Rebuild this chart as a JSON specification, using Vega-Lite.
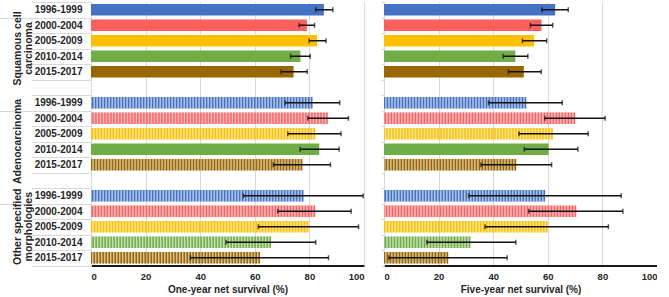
{
  "$schema": "https://vega.github.io/schema/vega-lite/v6.json",
  "padding": {"left": -3, "top": -3, "right": 0, "bottom": 0},
  "spacing": 20,
  "bounds": "flush",
  "config": {
    "view": {"stroke": null},
    "font": "Liberation Sans",
    "axis": {"labelFont": "Liberation Sans", "titleFont": "Liberation Sans", "labelColor": "#262626", "titleColor": "#262626"},
    "range": {"category": ["#4472C4","#FF5F5F","#FFC000","#70AD47","#996600"]}
  },
  "datasets": {
    "surv": [
      {"m": "1y", "grp": "SCC", "period": "1996-1999", "cat": "SCC|1996-1999", "v": 85.3, "lo": 82.3, "hi": 88.6},
      {"m": "1y", "grp": "SCC", "period": "2000-2004", "cat": "SCC|2000-2004", "v": 79.1, "lo": 76.2, "hi": 81.9},
      {"m": "1y", "grp": "SCC", "period": "2005-2009", "cat": "SCC|2005-2009", "v": 82.8, "lo": 79.9, "hi": 86.1},
      {"m": "1y", "grp": "SCC", "period": "2010-2014", "cat": "SCC|2010-2014", "v": 76.7, "lo": 73.1, "hi": 80.3},
      {"m": "1y", "grp": "SCC", "period": "2015-2017", "cat": "SCC|2015-2017", "v": 74.2, "lo": 69.6, "hi": 79.2},
      {"m": "1y", "grp": "ADC", "period": "1996-1999", "cat": "ADC|1996-1999", "v": 81.1, "lo": 71.1, "hi": 91.1},
      {"m": "1y", "grp": "ADC", "period": "2000-2004", "cat": "ADC|2000-2004", "v": 86.7, "lo": 79.4, "hi": 94.3},
      {"m": "1y", "grp": "ADC", "period": "2005-2009", "cat": "ADC|2005-2009", "v": 82.1, "lo": 72.1, "hi": 91.6},
      {"m": "1y", "grp": "ADC", "period": "2010-2014", "cat": "ADC|2010-2014", "v": 83.6, "lo": 76.6, "hi": 90.9},
      {"m": "1y", "grp": "ADC", "period": "2015-2017", "cat": "ADC|2015-2017", "v": 77.4, "lo": 66.8, "hi": 87.7},
      {"m": "1y", "grp": "OSM", "period": "1996-1999", "cat": "OSM|1996-1999", "v": 77.8, "lo": 55.8, "hi": 99.7},
      {"m": "1y", "grp": "OSM", "period": "2000-2004", "cat": "OSM|2000-2004", "v": 82.1, "lo": 68.4, "hi": 95.3},
      {"m": "1y", "grp": "OSM", "period": "2005-2009", "cat": "OSM|2005-2009", "v": 79.6, "lo": 61.3, "hi": 98.0},
      {"m": "1y", "grp": "OSM", "period": "2010-2014", "cat": "OSM|2010-2014", "v": 65.9, "lo": 49.5, "hi": 82.3},
      {"m": "1y", "grp": "OSM", "period": "2015-2017", "cat": "OSM|2015-2017", "v": 61.9, "lo": 36.4, "hi": 87.0},
      {"m": "5y", "grp": "SCC", "period": "1996-1999", "cat": "SCC|1996-1999", "v": 62.7, "lo": 57.8, "hi": 67.5},
      {"m": "5y", "grp": "SCC", "period": "2000-2004", "cat": "SCC|2000-2004", "v": 57.7, "lo": 53.6, "hi": 61.8},
      {"m": "5y", "grp": "SCC", "period": "2005-2009", "cat": "SCC|2005-2009", "v": 55.0, "lo": 50.7, "hi": 59.6},
      {"m": "5y", "grp": "SCC", "period": "2010-2014", "cat": "SCC|2010-2014", "v": 48.1, "lo": 43.7, "hi": 52.7},
      {"m": "5y", "grp": "SCC", "period": "2015-2017", "cat": "SCC|2015-2017", "v": 51.2, "lo": 45.6, "hi": 57.6},
      {"m": "5y", "grp": "ADC", "period": "1996-1999", "cat": "ADC|1996-1999", "v": 52.1, "lo": 38.3, "hi": 65.3},
      {"m": "5y", "grp": "ADC", "period": "2000-2004", "cat": "ADC|2000-2004", "v": 70.0, "lo": 58.9, "hi": 81.0},
      {"m": "5y", "grp": "ADC", "period": "2005-2009", "cat": "ADC|2005-2009", "v": 61.8, "lo": 49.4, "hi": 74.8},
      {"m": "5y", "grp": "ADC", "period": "2010-2014", "cat": "ADC|2010-2014", "v": 60.3, "lo": 51.4, "hi": 71.0},
      {"m": "5y", "grp": "ADC", "period": "2015-2017", "cat": "ADC|2015-2017", "v": 48.4, "lo": 35.5, "hi": 61.4},
      {"m": "5y", "grp": "OSM", "period": "1996-1999", "cat": "OSM|1996-1999", "v": 59.0, "lo": 31.0, "hi": 86.9},
      {"m": "5y", "grp": "OSM", "period": "2000-2004", "cat": "OSM|2000-2004", "v": 70.4, "lo": 53.0, "hi": 87.5},
      {"m": "5y", "grp": "OSM", "period": "2005-2009", "cat": "OSM|2005-2009", "v": 59.9, "lo": 37.0, "hi": 82.2},
      {"m": "5y", "grp": "OSM", "period": "2010-2014", "cat": "OSM|2010-2014", "v": 31.6, "lo": 15.7, "hi": 48.3},
      {"m": "5y", "grp": "OSM", "period": "2015-2017", "cat": "OSM|2015-2017", "v": 23.5, "lo": 1.8, "hi": 45.1}
    ]
  },
  "hconcat": [
    {
      "width": 273,
      "height": 263.5,
      "data": {"name": "surv"},
      "transform": [{"filter": "datum.m == '1y'"}],
      "resolve": {"axis": {"y": "independent"}},
      "layer": [
        {
          "mark": {"type": "bar", "height": {"band": 0.74}},
          "encoding": {
            "y": {"field": "cat", "type": "nominal",
              "scale": {"domain": ["SCC|1996-1999","SCC|2000-2004","SCC|2005-2009","SCC|2010-2014","SCC|2015-2017","SCC|","ADC|1996-1999","ADC|2000-2004","ADC|2005-2009","ADC|2010-2014","ADC|2015-2017","ADC|","OSM|1996-1999","OSM|2000-2004","OSM|2005-2009","OSM|2010-2014","OSM|2015-2017"], "paddingInner": 0, "paddingOuter": 0},
              "axis": {
                "orient": "left",
                "title": null,
                "labelExpr": "split(datum.value, '|')[1]",
                "tickBand": "extent",
                "tickSize": {"condition": {"test": "datum.value == 'SCC|1996-1999' || datum.value == 'ADC|1996-1999' || datum.value == 'OSM|1996-1999'", "value": 93}, "value": 60},
                "labelPadding": {"condition": {"test": "datum.value == 'SCC|1996-1999' || datum.value == 'ADC|1996-1999' || datum.value == 'OSM|1996-1999'", "value": -84}, "value": -51},
                "tickColor": "#d9d9d9",
                "domainColor": "#d9d9d9",
                "labelFontWeight": "bold",
                "labelFontSize": 10,
                "labelAlign": "right",
                "labelBaseline": "middle",
                "grid": false
              }
            },
            "x": {"field": "v", "type": "quantitative",
              "scale": {"domain": [0, 100], "nice": false},
              "axis": {"values": [0, 20, 40, 60, 80, 100], "title": "One-year net survival (%)", "grid": true, "gridColor": "#d9d9d9", "domainColor": "#1a1a1a", "domainWidth": 2, "ticks": false, "labelPadding": 6, "labelFontSize": 9.5, "labelFontWeight": "bold", "titleFontSize": 10, "titleFontWeight": "bold", "titlePadding": 3}
            },
            "fill": {"field": "period", "type": "nominal", "legend": null},
            "fillOpacity": {"condition": {"test": "datum.grp == 'SCC' || datum.cat == 'ADC|2010-2014'", "value": 1}, "value": 0.4}
          }
        },
        {
          "transform": [{"filter": "!(datum.grp == 'SCC' || datum.cat == 'ADC|2010-2014')"}],
          "mark": {"type": "rule", "strokeWidth": 11.5, "strokeDash": [1.5, 1.5], "strokeCap": "butt"},
          "encoding": {
            "y": {"field": "cat", "type": "nominal", "axis": null},
            "x": {"field": "v", "type": "quantitative"},
            "x2": {"datum": 0},
            "stroke": {"field": "period", "type": "nominal", "legend": null}
          }
        },
        {
          "mark": {"type": "rule", "strokeWidth": 1.5, "color": "#111111"},
          "encoding": {
            "y": {"field": "cat", "type": "nominal",
              "axis": {
                "orient": "left",
                "title": null,
                "values": ["SCC|2005-2009", "ADC|2005-2009", "OSM|2005-2009"],
                "labelExpr": "datum.value == 'SCC|2005-2009' ? ['Squamous cell', 'carcinoma'] : datum.value == 'ADC|2005-2009' ? 'Adenocarcinoma' : ['Other specified', 'morphologies']",
                "labelAngle": -90,
                "labelAlign": "center",
                "labelBaseline": "middle",
                "labelLineHeight": 11.5,
                "labelOffset": {"condition": {"test": "datum.value == 'OSM|2005-2009'", "value": 0}, "value": 7.75},
                "labelPadding": 74,
                "ticks": false,
                "tickSize": 0,
                "domain": false,
                "grid": false,
                "labelFontWeight": "bold",
                "labelFontSize": 10.5
              }
            },
            "x": {"field": "lo", "type": "quantitative"},
            "x2": {"field": "hi"}
          }
        },
        {
          "mark": {"type": "tick", "size": 5, "thickness": 1.5, "color": "#111111"},
          "encoding": {
            "y": {"field": "cat", "type": "nominal", "axis": null},
            "x": {"field": "lo", "type": "quantitative"}
          }
        },
        {
          "mark": {"type": "tick", "size": 5, "thickness": 1.5, "color": "#111111"},
          "encoding": {
            "y": {"field": "cat", "type": "nominal", "axis": null},
            "x": {"field": "hi", "type": "quantitative"}
          }
        }
      ]
    },
    {
      "width": 273,
      "height": 263.5,
      "data": {"name": "surv"},
      "transform": [{"filter": "datum.m == '5y'"}],
      "layer": [
        {
          "mark": {"type": "bar", "height": {"band": 0.74}},
          "encoding": {
            "y": {"field": "cat", "type": "nominal",
              "scale": {"domain": ["SCC|1996-1999","SCC|2000-2004","SCC|2005-2009","SCC|2010-2014","SCC|2015-2017","SCC|","ADC|1996-1999","ADC|2000-2004","ADC|2005-2009","ADC|2010-2014","ADC|2015-2017","ADC|","OSM|1996-1999","OSM|2000-2004","OSM|2005-2009","OSM|2010-2014","OSM|2015-2017"], "paddingInner": 0, "paddingOuter": 0},
              "axis": {"title": null, "labels": false, "tickBand": "extent", "tickSize": 3, "tickColor": "#d9d9d9", "domainColor": "#d9d9d9", "grid": false}
            },
            "x": {"field": "v", "type": "quantitative",
              "scale": {"domain": [0, 100], "nice": false},
              "axis": {"values": [0, 20, 40, 60, 80, 100], "title": "Five-year net survival (%)", "grid": true, "gridColor": "#d9d9d9", "domainColor": "#1a1a1a", "domainWidth": 2, "ticks": false, "labelPadding": 6, "labelFontSize": 9.5, "labelFontWeight": "bold", "titleFontSize": 10, "titleFontWeight": "bold", "titlePadding": 3}
            },
            "fill": {"field": "period", "type": "nominal", "legend": null},
            "fillOpacity": {"condition": {"test": "datum.grp == 'SCC' || datum.cat == 'ADC|2010-2014'", "value": 1}, "value": 0.4}
          }
        },
        {
          "transform": [{"filter": "!(datum.grp == 'SCC' || datum.cat == 'ADC|2010-2014')"}],
          "mark": {"type": "rule", "strokeWidth": 11.5, "strokeDash": [1.5, 1.5], "strokeCap": "butt"},
          "encoding": {
            "y": {"field": "cat", "type": "nominal"},
            "x": {"field": "v", "type": "quantitative"},
            "x2": {"datum": 0},
            "stroke": {"field": "period", "type": "nominal", "legend": null}
          }
        },
        {
          "mark": {"type": "rule", "strokeWidth": 1.5, "color": "#111111"},
          "encoding": {
            "y": {"field": "cat", "type": "nominal"},
            "x": {"field": "lo", "type": "quantitative"},
            "x2": {"field": "hi"}
          }
        },
        {
          "mark": {"type": "tick", "size": 5, "thickness": 1.5, "color": "#111111"},
          "encoding": {
            "y": {"field": "cat", "type": "nominal"},
            "x": {"field": "lo", "type": "quantitative"}
          }
        },
        {
          "mark": {"type": "tick", "size": 5, "thickness": 1.5, "color": "#111111"},
          "encoding": {
            "y": {"field": "cat", "type": "nominal"},
            "x": {"field": "hi", "type": "quantitative"}
          }
        }
      ]
    }
  ]
}
